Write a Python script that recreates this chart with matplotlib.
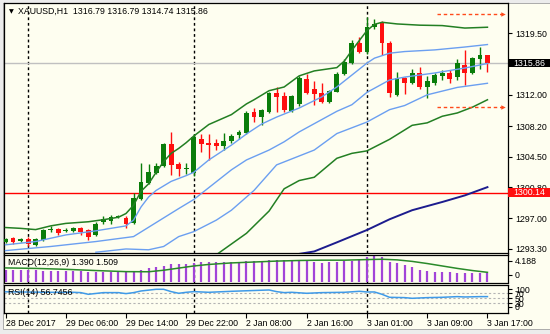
import numpy as np
import matplotlib
matplotlib.use('Agg')
import matplotlib.pyplot as plt
import matplotlib.transforms as mtransforms
from matplotlib.patches import Rectangle

plt.rcParams['font.family'] = ['Liberation Sans', 'DejaVu Sans']

# XAUUSD H1, 28 Dec 2017 21:00 .. 3 Jan 2018 17:00 (65 bars)
opens = [1294.15, 1294.6, 1294.3, 1294.55, 1293.8, 1294.4, 1295.65, 1295.7, 1295.45, 1295.5,
         1295.85, 1295.6, 1295.0, 1296.6, 1296.75, 1297.2, 1297.1, 1296.42, 1299.36, 1301.27,
         1302.5, 1303.37, 1306.0, 1303.6, 1302.97, 1302.55, 1306.67, 1306.2, 1306.1, 1305.8,
         1306.35, 1307.13, 1307.33, 1309.88, 1309.35, 1309.95, 1312.19, 1311.86, 1310.08, 1310.85,
         1313.88, 1312.67, 1312.19, 1311.1, 1312.38, 1314.53, 1315.9, 1318.32, 1317.23, 1320.2,
         1320.68, 1318.32, 1311.98, 1314.08, 1313.47, 1314.61, 1312.91, 1313.47, 1314.28, 1314.68,
         1314.2, 1315.62, 1314.68, 1316.3, 1316.79]
highs = [1294.6, 1294.75, 1294.6, 1294.75, 1294.6, 1295.7, 1296.1, 1295.9, 1295.8, 1296.0,
         1296.0, 1295.7, 1296.6, 1297.3, 1297.46, 1297.45, 1297.3, 1300.05, 1303.7, 1303.57,
         1303.7, 1306.1, 1307.53, 1303.9, 1303.7, 1307.25, 1307.25, 1307.3, 1306.7, 1307.4,
         1307.3, 1307.73, 1310.0, 1310.37, 1310.3, 1312.4, 1312.91, 1312.4, 1312.0, 1314.3,
         1314.53, 1313.68, 1313.47, 1312.6, 1314.8, 1316.3, 1318.6, 1319.05, 1321.48, 1321.2,
         1320.9, 1318.5, 1314.8, 1314.2, 1315.1, 1315.41, 1314.3, 1314.6, 1315.0, 1315.0,
         1316.3, 1317.44, 1316.6, 1317.84, 1316.79]
lows = [1294.0, 1293.95, 1294.1, 1293.6, 1293.7, 1294.3, 1295.4, 1295.0, 1295.3, 1295.4,
        1295.0, 1294.4, 1294.9, 1296.3, 1296.3, 1297.0, 1295.9, 1296.3, 1299.2, 1301.2,
        1302.4, 1303.3, 1302.28, 1302.2, 1302.4, 1302.1, 1305.1, 1304.1, 1305.3, 1305.3,
        1306.1, 1306.7, 1307.2, 1308.67, 1308.34, 1309.8, 1309.95, 1309.9, 1309.95, 1310.7,
        1312.07, 1310.77, 1311.0, 1311.0, 1312.3, 1314.4, 1315.8, 1317.1, 1317.0, 1320.0,
        1316.83, 1311.77, 1311.86, 1312.1, 1313.3, 1312.67, 1311.58, 1313.2, 1313.8, 1313.4,
        1313.8, 1313.2, 1314.5, 1315.1, 1314.74]
closes = [1294.5, 1294.2, 1294.5, 1293.9, 1294.5, 1295.6, 1295.75, 1295.25, 1295.6, 1295.9,
          1295.4, 1294.8, 1296.3, 1296.9, 1297.2, 1297.25, 1296.3, 1299.52, 1301.39, 1302.6,
          1303.37, 1306.04, 1303.5, 1302.97, 1303.13, 1306.85, 1306.0, 1305.95, 1305.8, 1306.44,
          1307.05, 1307.45, 1309.83, 1309.35, 1310.16, 1312.26, 1311.77, 1310.16, 1311.9, 1314.0,
          1312.19, 1312.1, 1311.1, 1312.46, 1314.53, 1316.02, 1318.32, 1317.23, 1320.19, 1320.55,
          1318.25, 1312.26, 1314.0, 1313.47, 1314.68, 1312.91, 1313.71, 1314.41, 1314.68, 1313.88,
          1315.82, 1314.61, 1316.43, 1316.83, 1315.86]

time_ticks = [0, 8, 16, 24, 32, 40, 48, 56, 64]
time_labels = ['28 Dec 2017', '29 Dec 06:00', '29 Dec 14:00', '29 Dec 22:00', '2 Jan 08:00',
               '2 Jan 16:00', '3 Jan 01:00', '3 Jan 09:00', '3 Jan 17:00']
day_starts = [3, 25, 48]

# bands (sampled where readable)
ug_idx = [0, 2, 4, 6, 8, 11, 13, 15, 16, 17, 18, 19, 20, 21, 22, 23, 24, 25, 27, 30, 32, 33, 35,
          37, 39, 41, 44, 45, 46, 47, 48, 49, 50, 52, 55, 58, 61, 64]
ug_val = [1295.9, 1295.8, 1295.65, 1296.1, 1296.4, 1296.6, 1296.85, 1297.15, 1297.6, 1298.6,
          1300.3, 1301.2, 1302.6, 1303.9, 1304.9, 1305.5, 1306.2, 1307.0, 1308.4, 1309.6,
          1310.9, 1311.4, 1312.5, 1312.95, 1314.3, 1314.9, 1315.3, 1316.1, 1317.4, 1318.6,
          1319.8, 1320.55, 1320.8, 1320.6, 1320.45, 1320.4, 1320.1, 1320.2]
ub_idx = [0, 4, 8, 12, 16, 17, 18, 19, 20, 22, 24, 25, 27, 30, 32, 34, 36, 39, 42, 44, 46, 48,
          49, 51, 53, 57, 61, 64]
ub_val = [1293.8, 1294.2, 1295.0, 1295.5, 1296.1, 1296.8, 1298.4, 1299.6, 1300.4, 1301.5,
          1302.2, 1302.6, 1304.1, 1305.9, 1307.25, 1308.45, 1309.3, 1310.4, 1311.75, 1312.95,
          1314.4, 1315.85, 1316.45, 1317.05, 1317.25, 1317.45, 1317.8, 1318.1]
mb_idx = [0, 6, 12, 17, 20, 23, 25, 30, 32, 35, 37, 39, 44, 46, 48, 51, 53, 57, 61, 64]
mb_val = [1293.1, 1293.6, 1294.2, 1294.8, 1296.5, 1298.2, 1299.3, 1302.9, 1304.1, 1305.3,
          1306.3, 1307.5, 1310.0, 1310.8, 1312.3, 1313.8, 1314.15, 1314.65, 1315.25, 1315.8]
lb_idx = [12, 16, 19, 21, 23, 25, 28, 30, 33, 36, 41, 44, 48, 51, 53, 56, 60, 64]
lb_val = [1292.9, 1293.3, 1293.2, 1293.6, 1294.8, 1295.4, 1296.8, 1298.0, 1300.4, 1303.5,
          1305.3, 1307.3, 1308.7, 1310.2, 1310.7, 1312.0, 1312.9, 1313.4]
lg_idx = [28, 30, 32, 35, 37, 39, 41, 44, 46, 48, 51, 54, 56, 58, 60, 62, 64]
lg_val = [1292.6, 1293.9, 1295.2, 1297.9, 1300.6, 1301.6, 1302.0, 1304.3, 1304.9, 1305.2,
          1306.6, 1308.3, 1308.6, 1309.4, 1309.8, 1310.5, 1311.4]
ma_idx = [39, 41, 44, 48, 51, 54, 58, 61, 64]
ma_val = [1292.7, 1293.0, 1294.1, 1295.6, 1296.9, 1298.0, 1299.0, 1299.8, 1300.8]

red_level = 1300.14
target_levels = [1321.8, 1310.55]
price_ticks = [1293.30, 1297.00, 1300.80, 1304.50, 1308.20, 1312.00, 1319.50]

macd_hist = [1.95, 1.95, 1.95, 1.93, 1.85, 1.80, 1.79, 1.78, 1.76, 1.72,
             1.70, 1.55, 1.52, 1.50, 1.50, 1.51, 1.49, 1.65, 1.95, 2.2,
             2.45, 2.6, 2.8, 2.95, 2.9, 3.05, 3.15, 3.2, 3.15, 3.12,
             3.15, 3.2, 3.35, 3.3, 3.3, 3.5, 3.52, 3.52, 3.5, 3.52,
             3.5, 3.18, 3.07, 3.13, 3.24, 3.35, 3.41, 3.52, 3.96, 4.188,
             3.96, 3.24, 2.96, 2.68, 2.40, 1.95, 1.78, 1.62, 1.55, 1.48,
             1.45, 1.40, 1.36, 1.37, 1.39]
sig_idx = [0, 4, 8, 12, 16, 19, 21, 23, 25, 27, 30, 33, 36, 39, 42, 45, 48, 50, 52, 54, 56, 58,
           60, 62, 64]
sig_val = [2.23, 2.15, 2.0, 1.8, 1.62, 1.6, 1.85, 2.2, 2.55, 2.8, 3.05, 3.2, 3.35, 3.45, 3.5,
           3.5, 3.6, 3.65, 3.55, 3.3, 2.95, 2.55, 2.15, 1.8, 1.509]

rsi_idx = [0, 3, 6, 9, 10, 11, 13, 15, 16, 17, 18, 20, 21, 22, 23, 24, 25, 27, 30, 35, 36, 37,
           38, 40, 42, 45, 47, 48, 49, 50, 51, 53, 54, 56, 58, 60, 61, 63, 64]
rsi_val = [76, 75, 74, 74, 72.7, 66, 72.7, 72.7, 68.7, 72.7, 79.3, 86, 86, 76.7, 70, 74, 76.7,
           74, 78, 83.3, 76.7, 72.7, 74, 70, 72.7, 74, 78, 75.3, 75.3, 66, 54, 52.7, 50, 52.7,
           54, 56.7, 55.3, 56.7, 56.75]

BG = '#fefef0'
BULL = '#0a7d0a'
BEAR = '#ff1010'
FS = 6.3
W, H = 550, 334


def px_rect(x0, y0, x1, y1):
    return [x0 / W, 1 - y1 / H, (x1 - x0) / W, (y1 - y0) / H]


fig = plt.figure(figsize=(W / 100, H / 100), dpi=100)
fig.patch.set_facecolor('#ececec')
fig.patches.append(Rectangle((2.5 / W, 1 - 329 / H), 547.5 / W, 326.5 / H,
                             transform=fig.transFigure, facecolor=BG, edgecolor='#a0a0a0',
                             lw=0.6, zorder=-5))

ax = fig.add_axes(px_rect(4, 3, 508, 253))
ax_m = fig.add_axes(px_rect(4, 254.5, 508, 282.5))
ax_r = fig.add_axes(px_rect(4, 284.5, 508, 312.5))

n = len(closes)
idx = np.arange(n)
o, h, l, c = map(np.array, (opens, highs, lows, closes))
cols = np.where(c >= o, BULL, BEAR)

for a in (ax, ax_m, ax_r):
    a.set_facecolor(BG)
    a.set_xlim(-0.2, 66.73)
    for s in a.spines.values():
        s.set_linewidth(0.9)
    a.yaxis.tick_right()
    a.tick_params(axis='y', length=3, width=0.8, pad=2, labelsize=FS, direction='out')
    for d in day_starts:
        a.axvline(d, color='black', lw=1, ls=(0, (2, 2)), zorder=1)

# main chart
ax.set_ylim(1292.81, 1323.14)
ax.set_xticks([])
ax.set_yticks(price_ticks)
ax.set_yticklabels([f'{v:.2f}' for v in price_ticks])

ax.axhline(c[-1], color='#c0c0c0', lw=1, zorder=1)
ax.axhline(red_level, color='#ff0000', lw=1, zorder=1.5)

ax.vlines(idx, l, h, colors=cols, lw=1, zorder=3)
ax.bar(idx, np.maximum(np.abs(c - o), 0.07), bottom=np.minimum(o, c), width=0.64,
       color=cols, linewidth=0, zorder=3)

ax.plot(ug_idx, ug_val, color='#237f23', lw=1.1, zorder=4)
ax.plot(lg_idx, lg_val, color='#237f23', lw=1.1, zorder=4)
ax.plot(ub_idx, ub_val, color='#6b9ff0', lw=1.0, zorder=4)
ax.plot(mb_idx, mb_val, color='#6b9ff0', lw=1.0, zorder=4)
ax.plot(lb_idx, lb_val, color='#6b9ff0', lw=1.0, zorder=4)
ax.plot(ma_idx, ma_val, color='#1c1c8e', lw=1.4, zorder=4)

for lev in target_levels:
    ax.hlines(lev, 57.3, 65.9, colors='#ff4a1a', lw=1, linestyles=(0, (2.5, 2)), zorder=4)
    ax.plot([66.0], [lev], marker='>', ms=3.2, color='#ff4a1a', mec='none', zorder=4,
            clip_on=False)

blend = mtransforms.blended_transform_factory(ax.transAxes, ax.transData)
for price, face in ((c[-1], '#000000'), (red_level, '#ff1010')):
    ax.add_patch(Rectangle((1.0, price - 0.54), 42 / 504, 1.08, transform=blend, facecolor=face,
                           edgecolor='none', clip_on=False, zorder=10))
    ax.text(1.0 + 5 / 504, price, f'{price:.2f}', transform=blend, color='white', fontsize=FS,
            va='center', ha='left', zorder=11, clip_on=False)

fig.text(8.5 / W, 1 - 11.5 / H, '\u25bc', fontsize=4.5, va='center', ha='left',
         family='DejaVu Sans')
fig.text(18 / W, 1 - 11.5 / H, 'XAUUSD,H1  1316.79 1316.79 1314.74 1315.86', fontsize=FS,
         va='center', ha='left')

# MACD
lo, hi = -0.16, 4.43
ax_m.set_ylim(lo, hi)
ax_m.set_xticks([])
ax_m.vlines(idx, 0, macd_hist, colors='#a244d8', lw=1.6, zorder=2)
ax_m.plot(sig_idx, sig_val, color='#2a8a2a', lw=1.1, zorder=3)
ax_m.set_yticks([lo + 0.77 * (hi - lo), lo + 0.27 * (hi - lo)])
ax_m.set_yticklabels(['4.188', '0'])
ax_m.text(0.008, 0.70, 'MACD(12,26,9) 1.390 1.509', transform=ax_m.transAxes, fontsize=FS,
          va='center', ha='left', zorder=5)

# RSI
ax_r.set_ylim(-6.8, 105.2)
for lev in (70, 50, 30):
    ax_r.axhline(lev, color='#b4b4b4', lw=0.8, ls=(0, (2, 2)), zorder=1)
ax_r.plot(rsi_idx, rsi_val, color='#3f9ae8', lw=1.1, zorder=3)
ax_r.set_yticks([87, 70, 50, 30, 17])
ax_r.set_yticklabels(['100', '70', '50', '30', '0'])
ax_r.text(0.008, 0.71, 'RSI(14) 56.7456', transform=ax_r.transAxes, fontsize=FS,
          va='center', ha='left', zorder=5)
ax_r.set_xticks(time_ticks)
ax_r.set_xticklabels(time_labels, ha='left')
ax_r.tick_params(axis='x', length=3.5, width=0.8, pad=1.5, labelsize=FS, direction='out')

fig.savefig('out.png', dpi=100, facecolor=fig.get_facecolor())
